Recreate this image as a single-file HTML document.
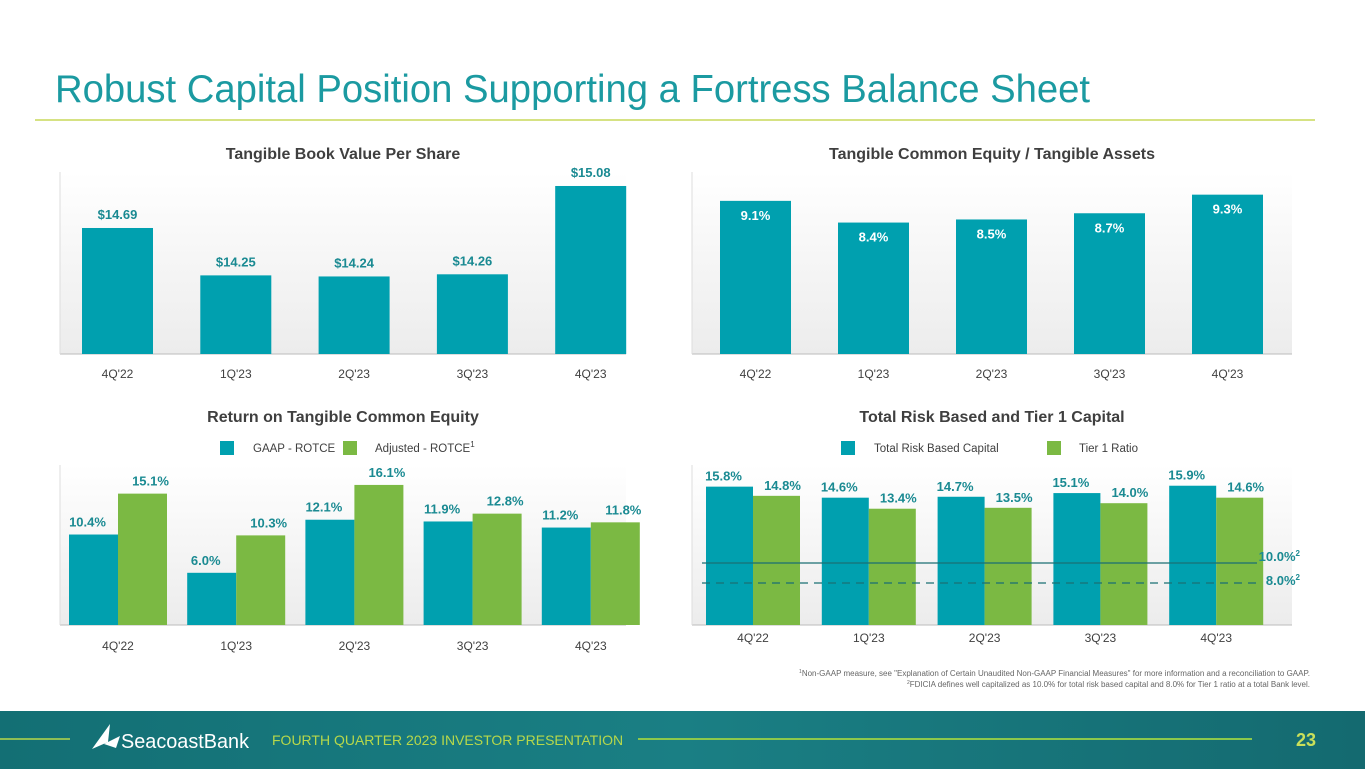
<!DOCTYPE html>
<html><head><meta charset="utf-8"><style>
html,body{margin:0;padding:0;width:1365px;height:769px;overflow:hidden;background:#fff;font-family:"Liberation Sans",sans-serif}
</style></head><body>
<svg id="s" width="1365" height="769" viewBox="0 0 1365 769" xmlns="http://www.w3.org/2000/svg">
<defs>
<linearGradient id="bg" x1="0" y1="0" x2="0" y2="1"><stop offset="0" stop-color="#fff"/><stop offset="1" stop-color="#ececec"/></linearGradient>
<linearGradient id="ft" x1="0" y1="0" x2="1" y2="0"><stop offset="0" stop-color="#136f74"/><stop offset="0.5" stop-color="#1a7f84"/><stop offset="1" stop-color="#146a70"/></linearGradient>
</defs>
<text x="55" y="102" font-size="39" fill="#1b9aa1" textLength="1035" lengthAdjust="spacingAndGlyphs">Robust Capital Position Supporting a Fortress Balance Sheet</text>
<line x1="35" y1="120" x2="1315" y2="120" stroke="#c9d95a" stroke-width="1.5"/>
<g id="c1"></g>
<g id="c2"></g>
<g id="c3"></g>
<g id="c4"></g>
<text x="1310" y="676" font-size="8" fill="#666" text-anchor="end"><tspan font-size="5" dy="-3">1</tspan><tspan dy="3">Non-GAAP measure, see "Explanation of Certain Unaudited Non-GAAP Financial Measures" for more information and a reconciliation to GAAP.</tspan></text>
<text x="1310" y="687" font-size="8" fill="#666" text-anchor="end"><tspan font-size="5" dy="-3">2</tspan><tspan dy="3">FDICIA defines well capitalized as 10.0% for total risk based capital and 8.0% for Tier 1 ratio at a total Bank level.</tspan></text>
<rect x="0" y="711" width="1365" height="58" fill="url(#ft)"/>
<line x1="0" y1="739" x2="70" y2="739" stroke="#b7d84a" stroke-width="1.5"/>
<path d="M92 749 L110 724 L108 742 Z M104 744 L120 736 L116 748 Z" fill="#fff"/>
<text x="121" y="748" font-size="20" fill="#fff" textLength="128" lengthAdjust="spacingAndGlyphs">SeacoastBank</text>
<text x="272" y="745" font-size="14" fill="#b7d84a">FOURTH QUARTER 2023 INVESTOR PRESENTATION</text>
<line x1="638" y1="739" x2="1252" y2="739" stroke="#8cc84b" stroke-width="2"/>
<text x="1296" y="746" font-size="18" font-weight="bold" fill="#c9e05a">23</text>
</svg>
<script>
const cats=["4Q'22","1Q'23","2Q'23","3Q'23","4Q'23"];
const tbv=[14.69,14.25,14.24,14.26,15.08];
const tbvLabels=["$14.69","$14.25","$14.24","$14.26","$15.08"];
const tce=[9.1,8.4,8.5,8.7,9.3];
const gaap=[10.4,6.0,12.1,11.9,11.2];
const adj=[15.1,10.3,16.1,12.8,11.8];
const trbc=[15.8,14.6,14.7,15.1,15.9];
const tier1=[14.8,13.4,13.5,14.0,14.6];
const thresholds=[10.0,8.0];
const TEAL="#00a0af",GREEN="#7bb943",LBL="#1a8a92",NS="http://www.w3.org/2000/svg";
function mk(p,t,a,txt){const e=document.createElementNS(NS,t);for(const k in a)e.setAttribute(k,a[k]);if(txt!=null)e.textContent=txt;p.appendChild(e);return e;}
function panel(g,x0,x1,yTop,base,title,ty){
 const bg=mk(g,'rect',{x:x0,y:yTop,width:x1-x0,height:base-yTop,fill:'url(#bg)'});
 
 const ax=mk(g,'line',{x1:x0,y1:base,x2:x1,y2:base,stroke:'#bbb','stroke-width':1});
 
 const l2=mk(g,'line',{x1:x0,y1:yTop,x2:x0,y2:base,stroke:'#ddd','stroke-width':1});
 
 const t=mk(g,'text',{x:(x0+x1)/2,y:ty,'font-size':16,'font-weight':'bold',fill:'#3f3f3f','text-anchor':'middle'},title);
 
}
function catLabels(g,cx,y){cats.forEach((c,i)=>{const t=mk(g,'text',{x:cx(i),y:y,'font-size':12,fill:'#404040','text-anchor':'middle'},c);
 });}
function legend(g,x,y,items){items.forEach(it=>{const r=mk(g,'rect',{x:it.x,y:y-7,width:14,height:14,fill:it.c});
 
 const t=mk(g,'text',{x:it.tx,y:y+4,'font-size':11.5,fill:'#404040'},it.t);
 
 if(it.sup){mk(t,'tspan',{'font-size':8,dy:-5},it.sup);}});}
// Chart 1
(function(){const g=document.getElementById('c1');const base=354;
 panel(g,60,626,172,base,'Tangible Book Value Per Share',159);
 const y=v=>base-(v-13.52)*107.7, cx=i=>117.5+i*118.3, w=71;
 tbv.forEach((v,i)=>{const r=mk(g,'rect',{x:cx(i)-w/2,y:y(v),width:w,height:base-y(v),fill:TEAL});
  
  const t=mk(g,'text',{x:cx(i),y:y(v)-9,'font-size':13,'font-weight':'bold',fill:LBL,'text-anchor':'middle'},tbvLabels[i]);
  });
 catLabels(g,cx,378);})();
// Chart 2
(function(){const g=document.getElementById('c2');const base=354;
 panel(g,692,1292,172,base,'Tangible Common Equity / Tangible Assets',159);
 const y=v=>base-(v-4.16)*31, cx=i=>755.5+i*118, w=71;
 tce.forEach((v,i)=>{const r=mk(g,'rect',{x:cx(i)-w/2,y:y(v),width:w,height:base-y(v),fill:TEAL});
  
  const t=mk(g,'text',{x:cx(i),y:y(v)+19,'font-size':13,'font-weight':'bold',fill:'#fff','text-anchor':'middle'},v.toFixed(1)+'%');
  });
 catLabels(g,cx,378);})();
// Chart 3
(function(){const g=document.getElementById('c3');const base=625;
 panel(g,60,626,465,base,'Return on Tangible Common Equity',422);
 legend(g,0,448,[{x:220,tx:253,c:TEAL,t:'GAAP - ROTCE'},{x:343,tx:375,c:GREEN,t:'Adjusted - ROTCE',sup:'1'}]);
 const y=v=>base-v*8.7, cx=i=>118+i*118.2, w=49;
 cats.forEach((c,i)=>{[[gaap,TEAL,-w,'bar-gaap-rotce'],[adj,GREEN,0,'bar-adjusted-rotce']].forEach(([arr,col,off,nm])=>{
  const v=arr[i];const r=mk(g,'rect',{x:cx(i)+off,y:y(v),width:w,height:base-y(v),fill:col});
  
  const t=mk(g,'text',{x:cx(i)+off+w/2-(off<0?6:-8),y:y(v)-8,'font-size':13,'font-weight':'bold',fill:LBL,'text-anchor':'middle'},v.toFixed(1)+'%');
  });});
 catLabels(g,cx,650);})();
// Chart 4
(function(){const g=document.getElementById('c4');const base=625;
 panel(g,692,1292,465,base,'Total Risk Based and Tier 1 Capital',422);
 legend(g,0,448,[{x:841,tx:874,c:TEAL,t:'Total Risk Based Capital'},{x:1047,tx:1079,c:GREEN,t:'Tier 1 Ratio'}]);
 const y=v=>632-v*9.2, cx=i=>753+i*115.8, w=47;
 cats.forEach((c,i)=>{[[trbc,TEAL,-w,'bar-total-risk-based'],[tier1,GREEN,0,'bar-tier1']].forEach(([arr,col,off,nm])=>{
  const v=arr[i];const r=mk(g,'rect',{x:cx(i)+off,y:y(v),width:w,height:base-y(v),fill:col});
  
  const t=mk(g,'text',{x:cx(i)+off+w/2-(off<0?6:-6),y:y(v)-6,'font-size':13,'font-weight':'bold',fill:LBL,'text-anchor':'middle'},v.toFixed(1)+'%');
  });});
 const ry=v=>563+(10-v)*10;
 thresholds.forEach((v,i)=>{const l=mk(g,'line',{x1:702,y1:ry(v),x2:1257,y2:ry(v),stroke:'#1b6f73','stroke-width':1.3});
  if(i===1)l.setAttribute('stroke-dasharray','8,6');
  
  const t=mk(g,'text',{x:1300,y:ry(v)+(i===0?-2:2),'font-size':13,'font-weight':'bold',fill:LBL,'text-anchor':'end'},v.toFixed(1)+'%');
  mk(t,'tspan',{'font-size':8,dy:-5},'2');
  });
 catLabels(g,cx,642);})();
</script>
</body></html>
